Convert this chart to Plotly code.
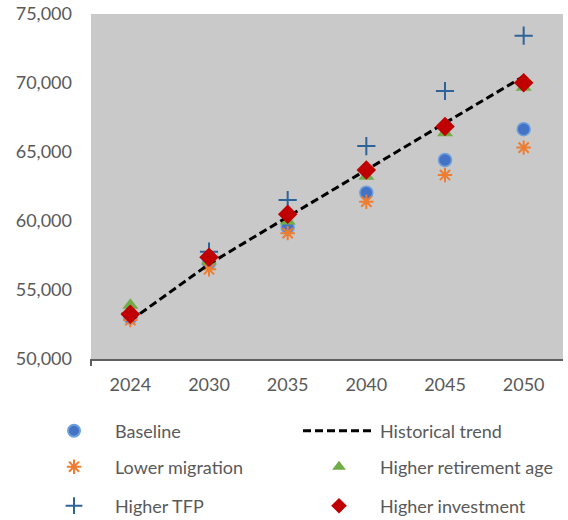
import plotly.graph_objects as go

years = ["2024", "2030", "2035", "2040", "2045", "2050"]
baseline = [53000, 56950, 59550, 62050, 64420, 66650]
lower_migration = [52820, 56500, 59120, 61400, 63330, 65320]
higher_tfp = [53300, 57780, 61520, 65430, 69420, 73430]
higher_retirement = [53900, 57100, 60000, 63250, 66400, 69700]
higher_investment = [53240, 57370, 60490, 63700, 66850, 70020]
historical_trend = [52780, 56880, 60300, 63720, 67100, 70480]

FONT = "Lato"
GREY = "#595959"
FS = 18

fig = go.Figure()
fig.add_trace(go.Scatter(
    x=years, y=baseline, name="Baseline", mode="markers",
    marker=dict(symbol="circle", size=13, color="#4472C4",
                line=dict(color="#6FA0DC", width=1.5)),
    legend="legend"))
fig.add_trace(go.Scatter(
    x=years, y=lower_migration, name="Lower migration", mode="markers",
    marker=dict(symbol="asterisk-open", size=12, color="#ED7D31",
                line=dict(color="#ED7D31", width=2)),
    legend="legend3"))
fig.add_trace(go.Scatter(
    x=years, y=higher_tfp, name="Higher TFP", mode="markers",
    marker=dict(symbol="cross-thin-open", size=13, color="#2E6399",
                line=dict(color="#2E6399", width=2)),
    legend="legend5"))
fig.add_trace(go.Scatter(
    x=years, y=higher_retirement, name="Higher retirement age", mode="markers",
    marker=dict(symbol="triangle-up", size=14, color="#70AD47"),
    legend="legend4"))
fig.add_trace(go.Scatter(
    x=years, y=historical_trend, name="Historical trend", mode="lines",
    line=dict(color="black", width=3, dash="8px,4px"),
    legend="legend2"))
fig.add_trace(go.Scatter(
    x=years, y=higher_investment, name="Higher investment", mode="markers",
    marker=dict(symbol="diamond", size=15, color="#C00000"),
    legend="legend6"))

leg_common = dict(orientation="v", xref="container", yref="container",
                  xanchor="left", yanchor="middle",
                  itemwidth=72,
                  font=dict(family=FONT, size=FS, color=GREY),
                  bgcolor="rgba(0,0,0,0)")
leg_marker = dict(leg_common, itemsizing="constant")

col_x = [33 / 568, 298 / 568]
row_y = [1 - 431 / 520, 1 - 467 / 520, 1 - 506 / 520]

fig.update_layout(
    width=568, height=520,
    margin=dict(l=91, r=5, t=14, b=161, autoexpand=False),
    paper_bgcolor="white", plot_bgcolor="#C9C9C9",
    font=dict(family=FONT, size=FS, color=GREY),
    xaxis=dict(type="category", range=[-0.5, 5.5], showgrid=False,
               showline=True, linecolor="#5F5F5F", linewidth=2, ticks="",
               zeroline=False, ticklabelstandoff=8,
               tickfont=dict(family=FONT, size=FS, color=GREY)),
    yaxis=dict(range=[50000, 75000], dtick=5000, tickformat=",",
               showgrid=False, zeroline=False, showline=False, ticks="",
               ticklabelstandoff=18,
               tickfont=dict(family=FONT, size=FS, color=GREY)),
    legend=dict(leg_marker, x=col_x[0], y=row_y[0]),
    legend2=dict(leg_common, x=col_x[1], y=row_y[0]),
    legend3=dict(leg_marker, x=col_x[0], y=row_y[1]),
    legend4=dict(leg_marker, x=col_x[1], y=row_y[1]),
    legend5=dict(leg_marker, x=col_x[0], y=row_y[2]),
    legend6=dict(leg_marker, x=col_x[1], y=row_y[2]),
    showlegend=True,
    shapes=[dict(type="line", xref="paper", yref="paper", x0=0, x1=0,
                 y0=0, y1=-0.02, line=dict(color="#5F5F5F", width=2))],
)

fig.write_html("out.html", config={"displayModeBar": False},
               post_script="document.body.style.margin='0';")
